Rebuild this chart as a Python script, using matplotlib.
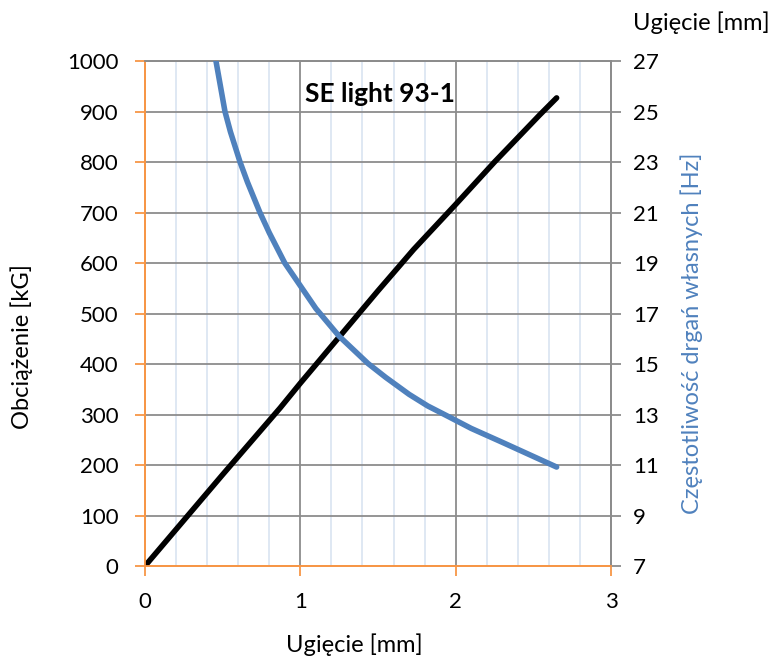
import matplotlib.pyplot as plt
import numpy as np

plt.rcParams["font.family"] = ["Lato", "DejaVu Sans"]

# obciazenie vs ugiecie
defl = [0.0, 0.5, 0.87, 1.0, 1.5, 1.73, 2.0, 2.25, 2.54, 2.65]
load = [0, 181, 313, 362, 545, 627, 716, 800, 893, 927]

# czestotliwosc drgan wlasnych vs ugiecie
defl_f = [0.457, 0.515, 0.55, 0.612, 0.66, 0.74, 0.8, 0.9, 1.0, 1.1, 1.25,
          1.436, 1.55, 1.7, 1.82, 1.95, 2.1, 2.3, 2.65]
freq = [27.0, 25.0, 24.2, 23.0, 22.2, 21.0, 20.2, 19.0, 18.1, 17.2, 16.1,
        15.02, 14.47, 13.8, 13.34, 12.93, 12.45, 11.9, 10.92]

orange = "#F79646"
grey = "#8C8C8C"
blue = "#4F81BD"

fig = plt.figure(figsize=(7.74, 6.59), dpi=100)
ax = fig.add_axes([0.1873, 0.1411, 0.6021, 0.7663])
ax2 = ax.twinx()

ax.set_xlim(0, 3)
ax.set_ylim(0, 1000)
ax2.set_ylim(7, 27)

ax.set_xticks([0, 1, 2, 3])
ax.set_xticks(np.arange(0.2, 3, 0.2), minor=True)
ax.set_yticks(range(0, 1001, 100))
ax2.set_yticks(range(7, 28, 2))

ax.grid(True, which="minor", axis="x", color="#DCE6F2", linewidth=1.3)
ax.grid(True, which="major", color=grey, linewidth=1.3)
ax.set_axisbelow(True)

ax.plot(defl, load, color="black", linewidth=4, solid_capstyle="round",
        solid_joinstyle="round", zorder=3)
ax2.plot(defl_f, freq, color=blue, linewidth=4, solid_capstyle="round",
         solid_joinstyle="round", zorder=3)

for a in (ax, ax2):
    a.spines["left"].set_color(orange)
    a.spines["bottom"].set_color(orange)
    a.spines["right"].set_color(grey)
    a.spines["top"].set_color(grey)
    for s in a.spines.values():
        s.set_linewidth(1.3)

ax.tick_params(axis="y", colors=orange, labelcolor="black", labelsize=16, length=7, width=1.3, pad=12)
ax.tick_params(axis="x", which="major", colors=orange, labelcolor="black", labelsize=16, length=7, width=1.3, pad=12)
ax.tick_params(axis="x", which="minor", length=0)
ax2.tick_params(axis="y", colors=grey, labelcolor="black", labelsize=16, length=7, width=1.3, pad=9)

ax.set_xlabel("Ugięcie [mm]", fontsize=17)
ax.xaxis.set_label_coords(0.45, -0.133)
ax.set_ylabel("Obciążenie [kG]", fontsize=17)
ax.yaxis.set_label_coords(-0.24, 0.435)
ax2.set_ylabel("Częstotliwość drgań własnych [Hz]", fontsize=17, color=blue)
ax2.yaxis.set_label_coords(1.148, 0.46)

ax.text(1.03, 935, "SE light 93-1", fontsize=19, fontweight="bold", ha="left", va="center")
fig.text(0.906, 0.965, "Ugięcie [mm]", fontsize=17, ha="center", va="center")

fig.savefig("out.png", dpi=100)
